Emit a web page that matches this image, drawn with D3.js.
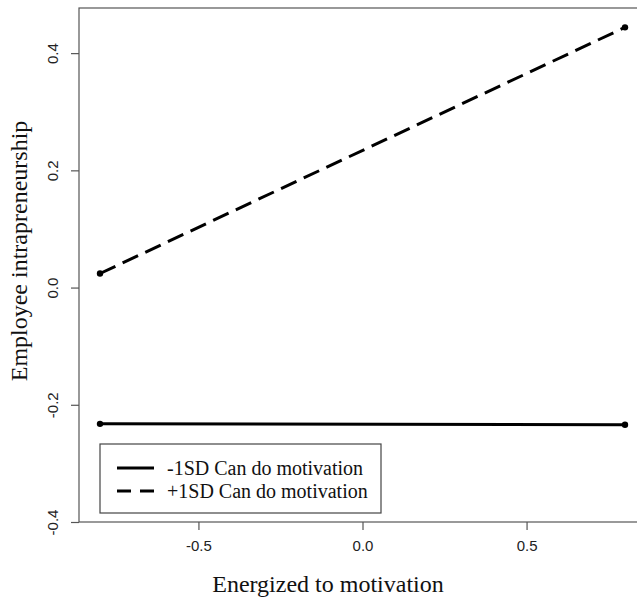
<!DOCTYPE html>
<html>
<head>
<meta charset="utf-8">
<script src="https://cdn.jsdelivr.net/npm/d3@7"></script>
<style>
  body { margin: 0; background: #fff; }
  .tick text { font-family: "Liberation Sans", Arial, sans-serif; font-size: 15px; fill: #222; }
  .tick line, .domain { stroke: #555; }
</style>
</head>
<body>
<div id="chart"></div>
<script>
/* CONSTANTS */
const width = 637, height = 603;
const margin = { top: 8, left: 79, bottom: 81, right: -9 };

/* DATA */
const xValues = [-0.8, 0.8];
const lowCanDo = [-0.2325, -0.234];   // -1SD Can do motivation
const highCanDo = [0.024, 0.444];     // +1SD Can do motivation
const xTicks = [-0.5, 0.0, 0.5];
const yTicks = [-0.4, -0.2, 0.0, 0.2, 0.4];
const legendLabels = ["-1SD Can do motivation", "+1SD Can do motivation"];

const series = [
  { name: legendLabels[0], values: lowCanDo, dash: null },
  { name: legendLabels[1], values: highCanDo, dash: "17,8" }
];

// R prints a plain hyphen for negatives
const fmt = d => d.toFixed(1);

const svg = d3.select("#chart").append("svg")
  .attr("width", width).attr("height", height);

// scales (R style: x extended 4%, y bottom at -0.4)
const xScale = d3.scaleLinear()
  .domain([-0.864, 0.864])
  .range([margin.left, width - margin.right]);
const yScale = d3.scaleLinear()
  .domain([-0.4, 0.477])
  .range([height - margin.bottom, margin.top]);

// box
svg.append("rect")
  .attr("x", xScale.range()[0]).attr("y", yScale.range()[1])
  .attr("width", xScale.range()[1] - xScale.range()[0])
  .attr("height", yScale.range()[0] - yScale.range()[1])
  .attr("fill", "none").attr("stroke", "#555").attr("stroke-width", 1.2);

// x axis
svg.append("g")
  .attr("transform", `translate(0,${yScale.range()[0]})`)
  .call(d3.axisBottom(xScale).tickValues(xTicks).tickSize(8).tickPadding(10).tickFormat(fmt))
  .call(g => g.select(".domain").remove())
  .call(g => g.selectAll(".tick line").attr("stroke-width", 1.2));

// y axis
svg.append("g")
  .attr("transform", `translate(${xScale.range()[0]},0)`)
  .call(d3.axisLeft(yScale).tickValues(yTicks).tickSize(8).tickFormat(fmt))
  .call(g => g.select(".domain").remove())
  .call(g => g.selectAll(".tick line").attr("stroke-width", 1.2))
  .call(g => g.selectAll(".tick text")
    .attr("x", null).attr("dy", null)
    .attr("text-anchor", "middle")
    .attr("transform", "translate(-21,0) rotate(-90)"));

// axis titles
svg.append("text")
  .attr("x", 328).attr("y", 592)
  .attr("text-anchor", "middle")
  .style("font-family", "'Liberation Serif', 'Times New Roman', serif")
  .style("font-size", "24px").style("fill", "#111")
  .text("Energized to motivation");

svg.append("text")
  .attr("transform", "translate(27,251) rotate(-90)")
  .attr("text-anchor", "middle")
  .style("font-family", "'Liberation Serif', 'Times New Roman', serif")
  .style("font-size", "24px").style("fill", "#111")
  .text("Employee intrapreneurship");

// lines + points
const line = d3.line()
  .x((d, i) => xScale(xValues[i]))
  .y(d => yScale(d));

svg.selectAll(".series")
  .data(series)
  .join("path")
  .attr("class", "series")
  .attr("d", d => line(d.values))
  .attr("fill", "none")
  .attr("stroke", "#000")
  .attr("stroke-width", 3)
  .attr("stroke-dasharray", d => d.dash);

series.forEach(s => {
  svg.selectAll(null)
    .data(s.values)
    .join("circle")
    .attr("cx", (d, i) => xScale(xValues[i]))
    .attr("cy", d => yScale(d))
    .attr("r", 3.2)
    .attr("fill", "#000");
});

// legend
const legend = svg.append("g").attr("transform", "translate(100,444)");
legend.append("rect")
  .attr("width", 281).attr("height", 69)
  .attr("fill", "#fff").attr("stroke", "#444").attr("stroke-width", 1.2);

const items = legend.selectAll(".item")
  .data(series)
  .join("g")
  .attr("class", "item")
  .attr("transform", (d, i) => `translate(0,${24 + i * 23})`);

items.append("line")
  .attr("x1", 17).attr("x2", 54)
  .attr("stroke", "#000").attr("stroke-width", 3)
  .attr("stroke-dasharray", d => d.dash ? "14,9" : null);

items.append("text")
  .attr("x", 67).attr("y", 7)
  .style("font-family", "'Liberation Serif', 'Times New Roman', serif")
  .style("font-size", "20px").style("fill", "#111")
  .text(d => d.name);
</script>
</body>
</html>
